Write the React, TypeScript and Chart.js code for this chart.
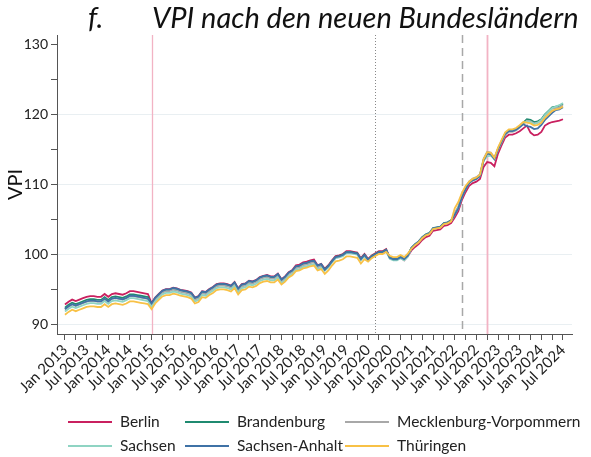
import React, { useEffect, useRef } from "react";
import { Chart, registerables } from "chart.js";
Chart.register(...registerables);

const FONT = "Lato, 'Open Sans', sans-serif";

// month index 0 = Jan 2013 ... 138 = Jul 2024
const tickLabels = [
  "Jan 2013", "Jul 2013", "Jan 2014", "Jul 2014", "Jan 2015", "Jul 2015",
  "Jan 2016", "Jul 2016", "Jan 2017", "Jul 2017", "Jan 2018", "Jul 2018",
  "Jan 2019", "Jul 2019", "Jan 2020", "Jul 2020", "Jan 2021", "Jul 2021",
  "Jan 2022", "Jul 2022", "Jan 2023", "Jul 2023", "Jan 2024", "Jul 2024",
];

const seriesNames = ["Berlin", "Brandenburg", "Mecklenburg-Vorpommern", "Sachsen", "Sachsen-Anhalt", "Thüringen"];
const seriesColors = ["#c9205f", "#1f8a70", "#a8a8a8", "#8fd4c3", "#3f72a6", "#f8c146"];

const berlin = [
  92.9, 93.3, 93.6, 93.4, 93.6, 93.8, 94.0, 94.1, 94.1, 94.0, 94.0, 94.4,
  94.0, 94.4, 94.5, 94.4, 94.3, 94.5, 94.8, 94.8, 94.7, 94.6, 94.5, 94.4,
  93.1, 93.9, 94.4, 94.9, 95.1, 95.1, 95.3, 95.2, 95.0, 94.9, 94.8, 94.6,
  93.9, 94.1, 94.8, 94.7, 95.1, 95.4, 95.8, 95.9, 95.9, 95.8, 95.6, 96.1,
  95.2, 95.8, 95.9, 96.3, 96.2, 96.4, 96.8, 97.0, 97.1, 96.9, 96.9, 97.3,
  96.5, 96.9, 97.5, 97.8, 98.5, 98.6, 98.9, 99.0, 99.2, 99.3, 98.5, 98.7,
  98.0, 98.5, 99.2, 99.8, 99.9, 100.1, 100.5, 100.5, 100.4, 100.3, 99.5, 100.1,
  99.4, 99.9, 100.2, 100.5, 100.5, 100.8, 99.6, 99.4, 99.3, 99.6, 99.2, 99.8,
  100.6, 101.1, 101.5, 102.1, 102.5, 102.7, 103.4, 103.5, 103.6, 104.1, 104.2, 104.5,
  105.3, 106.2, 107.8, 108.9, 109.8, 110.2, 110.4, 110.8, 112.5, 113.2, 113.1, 112.6,
  114.4, 115.6, 116.7, 117.1, 117.1, 117.3, 117.6, 118.0, 118.4, 117.4, 117.0, 117.1,
  117.5, 118.4, 118.7, 118.9, 119.0, 119.1, 119.3,
];

const brandenburg = [
  92.45, 92.85, 93.15, 92.95, 93.15, 93.35, 93.55, 93.65, 93.65, 93.55, 93.55, 93.95,
  93.55, 93.95, 94.05, 93.95, 93.85, 94.05, 94.35, 94.35, 94.25, 94.15, 94.05, 93.95,
  93.0, 93.8, 94.3, 94.8, 95.0, 95.0, 95.2, 95.1, 94.9, 94.8, 94.7, 94.5,
  93.8, 94.0, 94.7, 94.6, 95.0, 95.3, 95.7, 95.8, 95.8, 95.7, 95.5, 96.0,
  95.1, 95.7, 95.8, 96.2, 96.1, 96.3, 96.7, 96.9, 97.0, 96.8, 96.8, 97.2,
  96.4, 96.8, 97.4, 97.7, 98.3, 98.4, 98.7, 98.8, 99.0, 99.1, 98.4, 98.6,
  97.9, 98.4, 99.1, 99.7, 99.8, 100.0, 100.4, 100.4, 100.3, 100.2, 99.4, 100.0,
  99.3, 99.8, 100.1, 100.4, 100.4, 100.7, 99.6, 99.4, 99.4, 99.7, 99.4, 99.9,
  101.0, 101.5, 101.9, 102.5, 102.9, 103.1, 103.8, 103.9, 104.0, 104.5, 104.6, 104.9,
  105.8, 106.7, 108.3, 109.4, 110.3, 110.7, 110.9, 111.3, 113.5, 114.5, 114.4, 113.7,
  115.1, 116.2, 117.3, 117.7, 117.7, 117.9, 118.3, 118.8, 119.3, 119.2, 118.9, 119.0,
  119.3, 120.0, 120.5, 121.0, 121.1, 121.2, 121.5,
];

const mecklenburgVorpommern = [
  92.2, 92.6, 92.9, 92.7, 92.9, 93.1, 93.3, 93.4, 93.4, 93.3, 93.3, 93.7,
  93.3, 93.7, 93.8, 93.7, 93.6, 93.8, 94.1, 94.1, 94.0, 93.9, 93.8, 93.7,
  92.8, 93.6, 94.1, 94.6, 94.8, 94.8, 95.0, 94.9, 94.7, 94.6, 94.5, 94.3,
  93.6, 93.8, 94.5, 94.4, 94.8, 95.1, 95.5, 95.6, 95.6, 95.5, 95.3, 95.8,
  94.9, 95.5, 95.6, 96.0, 95.9, 96.1, 96.5, 96.7, 96.8, 96.6, 96.6, 97.0,
  96.2, 96.6, 97.2, 97.5, 98.1, 98.2, 98.5, 98.6, 98.8, 98.9, 98.2, 98.4,
  97.8, 98.3, 99.0, 99.6, 99.7, 99.9, 100.3, 100.3, 100.2, 100.1, 99.3, 99.9,
  99.2, 99.7, 100.0, 100.3, 100.3, 100.6, 99.5, 99.3, 99.3, 99.6, 99.3, 99.8,
  100.9, 101.4, 101.8, 102.4, 102.8, 103.0, 103.7, 103.8, 103.9, 104.4, 104.5, 104.8,
  105.95, 106.85, 108.45, 109.55, 110.45, 110.85, 111.05, 111.45, 113.65, 114.65, 114.55, 113.85,
  114.9, 116.0, 117.1, 117.5, 117.5, 117.7, 118.1, 118.6, 119.1, 119.0, 118.7, 118.8,
  119.1, 119.8, 120.3, 120.8, 120.9, 121.0, 121.3,
];

const sachsen = [
  91.9, 92.3, 92.6, 92.4, 92.6, 92.8, 93.0, 93.1, 93.1, 93.0, 93.0, 93.4,
  93.0, 93.4, 93.5, 93.4, 93.3, 93.5, 93.8, 93.8, 93.7, 93.6, 93.5, 93.4,
  92.55, 93.35, 93.85, 94.35, 94.55, 94.55, 94.75, 94.65, 94.45, 94.35, 94.25, 94.05,
  93.35, 93.55, 94.25, 94.15, 94.55, 94.85, 95.25, 95.35, 95.35, 95.25, 95.05, 95.55,
  94.65, 95.25, 95.35, 95.75, 95.65, 95.85, 96.25, 96.45, 96.55, 96.35, 96.35, 96.75,
  95.95, 96.35, 96.95, 97.25, 97.85, 97.95, 98.25, 98.35, 98.55, 98.65, 97.95, 98.15,
  97.7, 98.2, 98.9, 99.5, 99.6, 99.8, 100.2, 100.2, 100.1, 100.0, 99.2, 99.8,
  99.1, 99.6, 99.9, 100.2, 100.2, 100.5, 99.4, 99.2, 99.2, 99.5, 99.2, 99.7,
  100.9, 101.4, 101.8, 102.4, 102.8, 103.0, 103.7, 103.8, 103.9, 104.4, 104.5, 104.8,
  105.7, 106.6, 108.2, 109.3, 110.2, 110.6, 110.8, 111.2, 113.4, 114.0, 114.1, 113.6,
  115.0, 116.1, 117.2, 117.6, 117.6, 117.8, 118.2, 118.7, 119.0, 118.9, 118.6, 118.8,
  119.2, 119.9, 120.4, 120.9, 121.1, 121.3, 121.6,
];

const sachsenAnhalt = [
  92.25, 92.65, 92.95, 92.75, 92.95, 93.15, 93.35, 93.45, 93.45, 93.35, 93.35, 93.75,
  93.35, 93.75, 93.85, 93.75, 93.65, 93.85, 94.15, 94.15, 94.05, 93.95, 93.85, 93.75,
  93.05, 93.85, 94.35, 94.85, 95.05, 95.05, 95.25, 95.15, 94.95, 94.85, 94.75, 94.55,
  93.85, 94.05, 94.75, 94.65, 95.05, 95.35, 95.75, 95.85, 95.85, 95.75, 95.55, 96.05,
  95.15, 95.75, 95.85, 96.25, 96.15, 96.35, 96.75, 96.95, 97.05, 96.85, 96.85, 97.25,
  96.45, 96.85, 97.45, 97.75, 98.35, 98.45, 98.75, 98.85, 99.05, 99.15, 98.45, 98.65,
  97.85, 98.35, 99.05, 99.65, 99.75, 99.95, 100.35, 100.35, 100.25, 100.15, 99.35, 99.95,
  99.25, 99.75, 100.05, 100.35, 100.35, 100.65, 99.55, 99.35, 99.35, 99.65, 99.35, 99.85,
  100.95, 101.45, 101.85, 102.45, 102.85, 103.05, 103.75, 103.85, 103.95, 104.45, 104.55, 104.85,
  105.7, 106.6, 108.2, 109.3, 110.2, 110.6, 110.8, 111.2, 113.4, 114.4, 114.3, 113.6,
  115.0, 116.1, 117.2, 117.6, 117.6, 117.8, 118.2, 118.6, 118.3, 118.2, 117.9, 118.0,
  118.5, 119.2, 119.7, 120.2, 120.6, 120.7, 121.0,
];

const thueringen = [
  91.45, 91.85, 92.15, 91.95, 92.15, 92.35, 92.55, 92.65, 92.65, 92.55, 92.55, 92.95,
  92.55, 92.95, 93.05, 92.95, 92.85, 93.05, 93.35, 93.35, 93.25, 93.15, 93.05, 92.95,
  92.25, 93.05, 93.55, 94.05, 94.25, 94.25, 94.45, 94.35, 94.15, 94.05, 93.95, 93.75,
  93.05, 93.25, 93.95, 93.85, 94.25, 94.55, 94.95, 95.05, 95.05, 94.95, 94.75, 95.25,
  94.35, 94.95, 95.05, 95.45, 95.35, 95.55, 95.95, 96.15, 96.25, 96.05, 96.05, 96.45,
  95.75, 96.15, 96.75, 97.05, 97.65, 97.75, 98.05, 98.15, 98.35, 98.45, 97.75, 97.95,
  97.25, 97.75, 98.45, 99.05, 99.15, 99.35, 99.75, 99.75, 99.65, 99.55, 98.75, 99.35,
  99.0, 99.5, 99.8, 100.1, 100.1, 100.4, 99.85, 99.65, 99.65, 99.95, 99.65, 100.15,
  100.85, 101.35, 101.75, 102.35, 102.75, 102.95, 103.65, 103.75, 103.85, 104.35, 104.45, 104.75,
  106.6, 107.5, 108.8, 109.8, 110.4, 110.8, 111.0, 111.4, 113.6, 114.6, 114.5, 113.8,
  115.25, 116.35, 117.45, 117.85, 117.85, 118.05, 118.45, 118.9, 118.8, 118.7, 118.4, 118.5,
  118.8, 119.5, 120.0, 120.5, 120.7, 120.8, 121.1,
];

const seriesValues = [berlin, brandenburg, mecklenburgVorpommern, sachsen, sachsenAnhalt, thueringen];

// reference lines (month index): Jan 2015, Mar 2020, Mar 2022, Oct 2022
const eventMonths = [24, 86, 110, 117];
const eventColors = ["#f2b3c4", "#888888", "#a8a8a8", "#f2b3c4"];
const eventDashes = [[], [1, 2], [8, 5], []];
const eventWidths = [1.3, 1, 1.5, 1.8];

const yTicks = [90, 95, 100, 105, 110, 115, 120, 125, 130];
const xTickMonths = Array.from({ length: 47 }, (_, i) => i * 3);

const legendCols = [68, 185, 345];
const legendRows = [422, 446];

const overlayPlugin = {
  id: "overlay",
  beforeDatasetsDraw(chart: any) {
    const { ctx, chartArea, scales } = chart;
    const x = scales.x;
    eventMonths.forEach((m, i) => {
      const px = Math.round(x.getPixelForValue(m)) + 0.5;
      ctx.save();
      ctx.strokeStyle = eventColors[i];
      ctx.lineWidth = eventWidths[i];
      ctx.setLineDash(eventDashes[i]);
      ctx.beginPath();
      ctx.moveTo(px, chartArea.top);
      ctx.lineTo(px, chartArea.bottom);
      ctx.stroke();
      ctx.restore();
    });
  },
  afterDraw(chart: any) {
    const { ctx } = chart;
    ctx.save();
    ctx.fillStyle = "#111";
    ctx.font = `italic 29px ${FONT}`;
    ctx.textBaseline = "alphabetic";
    ctx.textAlign = "left";
    ctx.fillText("f.", 88, 28);
    ctx.fillText("VPI nach den neuen Bundesländern", 152, 28);
    ctx.font = `15.5px ${FONT}`;
    ctx.textBaseline = "middle";
    seriesNames.forEach((name, i) => {
      const col = i % 3;
      const row = Math.floor(i / 3);
      const x0 = legendCols[col];
      const y0 = legendRows[row];
      ctx.strokeStyle = seriesColors[i];
      ctx.lineWidth = 2;
      ctx.beginPath();
      ctx.moveTo(x0, y0);
      ctx.lineTo(x0 + 44, y0);
      ctx.stroke();
      ctx.fillStyle = "#222";
      ctx.fillText(name, x0 + 52, y0);
    });
    ctx.restore();
  },
};

export default function App() {
  const ref = useRef<HTMLCanvasElement | null>(null);
  useEffect(() => {
    if (!ref.current) return;
    const datasets = seriesNames.map((name, i) => ({
      label: name,
      data: seriesValues[i].map((v, m) => ({ x: m, y: v })),
      borderColor: seriesColors[i],
      backgroundColor: seriesColors[i],
      borderWidth: 1.8,
      pointRadius: 0,
      tension: 0,
      order: seriesNames.length - i,
    }));
    const chart = new Chart(ref.current, {
      type: "line",
      data: { datasets },
      plugins: [overlayPlugin],
      options: {
        responsive: false,
        animation: false,
        events: [],
        layout: { padding: { top: 35, right: 19, bottom: 63, left: 0 } },
        plugins: { legend: { display: false }, tooltip: { enabled: false }, title: { display: false } },
        scales: {
          x: {
            type: "linear",
            min: -2.2,
            max: 140.5,
            afterBuildTicks: (s: any) => {
              s.ticks = xTickMonths.map((v) => ({ value: v }));
            },
            afterFit: (s: any) => {
              s.height = 60;
            },
            grid: { drawOnChartArea: false, drawTicks: true, tickLength: 6, color: "#555", tickColor: "#555" },
            border: { color: "#555", width: 1 },
            ticks: {
              autoSkip: false,
              minRotation: 45,
              maxRotation: 45,
              padding: 1,
              color: "#222",
              font: { family: FONT, size: 15 },
              callback: (v: any) => (Number(v) % 6 === 0 ? tickLabels[Number(v) / 6] : ""),
            },
          },
          y: {
            type: "linear",
            min: 88.7,
            max: 131.3,
            afterBuildTicks: (s: any) => {
              s.ticks = yTicks.map((v) => ({ value: v }));
            },
            afterFit: (s: any) => {
              s.width = 57;
            },
            grid: {
              drawTicks: true,
              tickLength: 6,
              tickColor: "#555",
              color: (c: any) =>
                c.tick && c.tick.value % 10 === 0 && c.tick.value < 130 ? "#e9eff2" : "rgba(0,0,0,0)",
            },
            border: { color: "#555", width: 1 },
            title: {
              display: true,
              text: "VPI",
              color: "#111",
              font: { family: FONT, size: 20 },
              padding: { top: 4, bottom: 0 },
            },
            ticks: {
              color: "#222",
              padding: 3,
              font: { family: FONT, size: 14 },
              callback: (v: any) => (Number(v) % 10 === 0 ? String(v) : ""),
            },
          },
        },
      },
    });
    return () => chart.destroy();
  }, []);
  return (
    <div style={{ position: "absolute", left: 0, top: 0, width: 591, height: 457, background: "#fff" }}>
      <canvas ref={ref} width={591} height={457} style={{ display: "block", width: 591, height: 457 }} />
    </div>
  );
}
